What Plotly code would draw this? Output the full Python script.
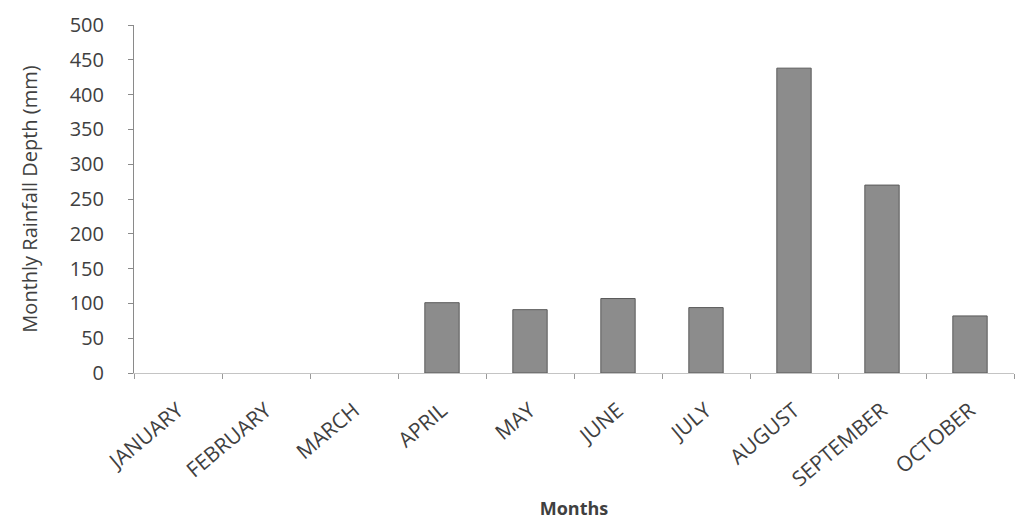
import plotly.graph_objects as go

months = ["JANUARY", "FEBRUARY", "MARCH", "APRIL", "MAY", "JUNE",
          "JULY", "AUGUST", "SEPTEMBER", "OCTOBER"]
rainfall_mm = [0, 0, 0, 101, 91, 107, 94, 438, 270, 82]
y_ticks = [0, 50, 100, 150, 200, 250, 300, 350, 400, 450, 500]

text_color = "#404040"
font_family = "Open Sans, Liberation Sans, sans-serif"

# no outline on zero-height bars (they are invisible in the reference)
outline_widths = [1 if v > 0 else 0 for v in rainfall_mm]

fig = go.Figure(go.Bar(
    x=months,
    y=rainfall_mm,
    width=0.39,
    marker=dict(color="#8c8c8c", line=dict(color="#5a5a5a", width=outline_widths)),
))

fig.update_layout(
    width=1016, height=520,
    margin=dict(l=134, r=2, t=25, b=147),
    plot_bgcolor="white", paper_bgcolor="white",
    showlegend=False,
    font=dict(family=font_family, color=text_color, size=16),
)

fig.update_xaxes(
    type="category",
    tickangle=-40,
    tickfont=dict(size=21, color=text_color),
    showline=True, linecolor="#c4c4c4", linewidth=1,
    ticks="outside", ticklen=5, tickcolor="#9a9a9a",
    tickson="boundaries",
    showgrid=False,
    title=dict(text="<b>Months</b>", font=dict(size=18, color=text_color), standoff=14),
    ticklabelstandoff=16,
)

fig.update_yaxes(
    range=[0, 500],
    tickvals=y_ticks,
    tickfont=dict(size=20, color=text_color),
    showline=True, linecolor="#8a8a8a", linewidth=1,
    ticks="outside", ticklen=5, tickcolor="#8a8a8a",
    showgrid=False, zeroline=False,
    title=dict(text="Monthly Rainfall Depth (mm)", font=dict(size=20, color=text_color), standoff=26),
    ticklabelstandoff=20,
)

fig.write_html("out.html")
